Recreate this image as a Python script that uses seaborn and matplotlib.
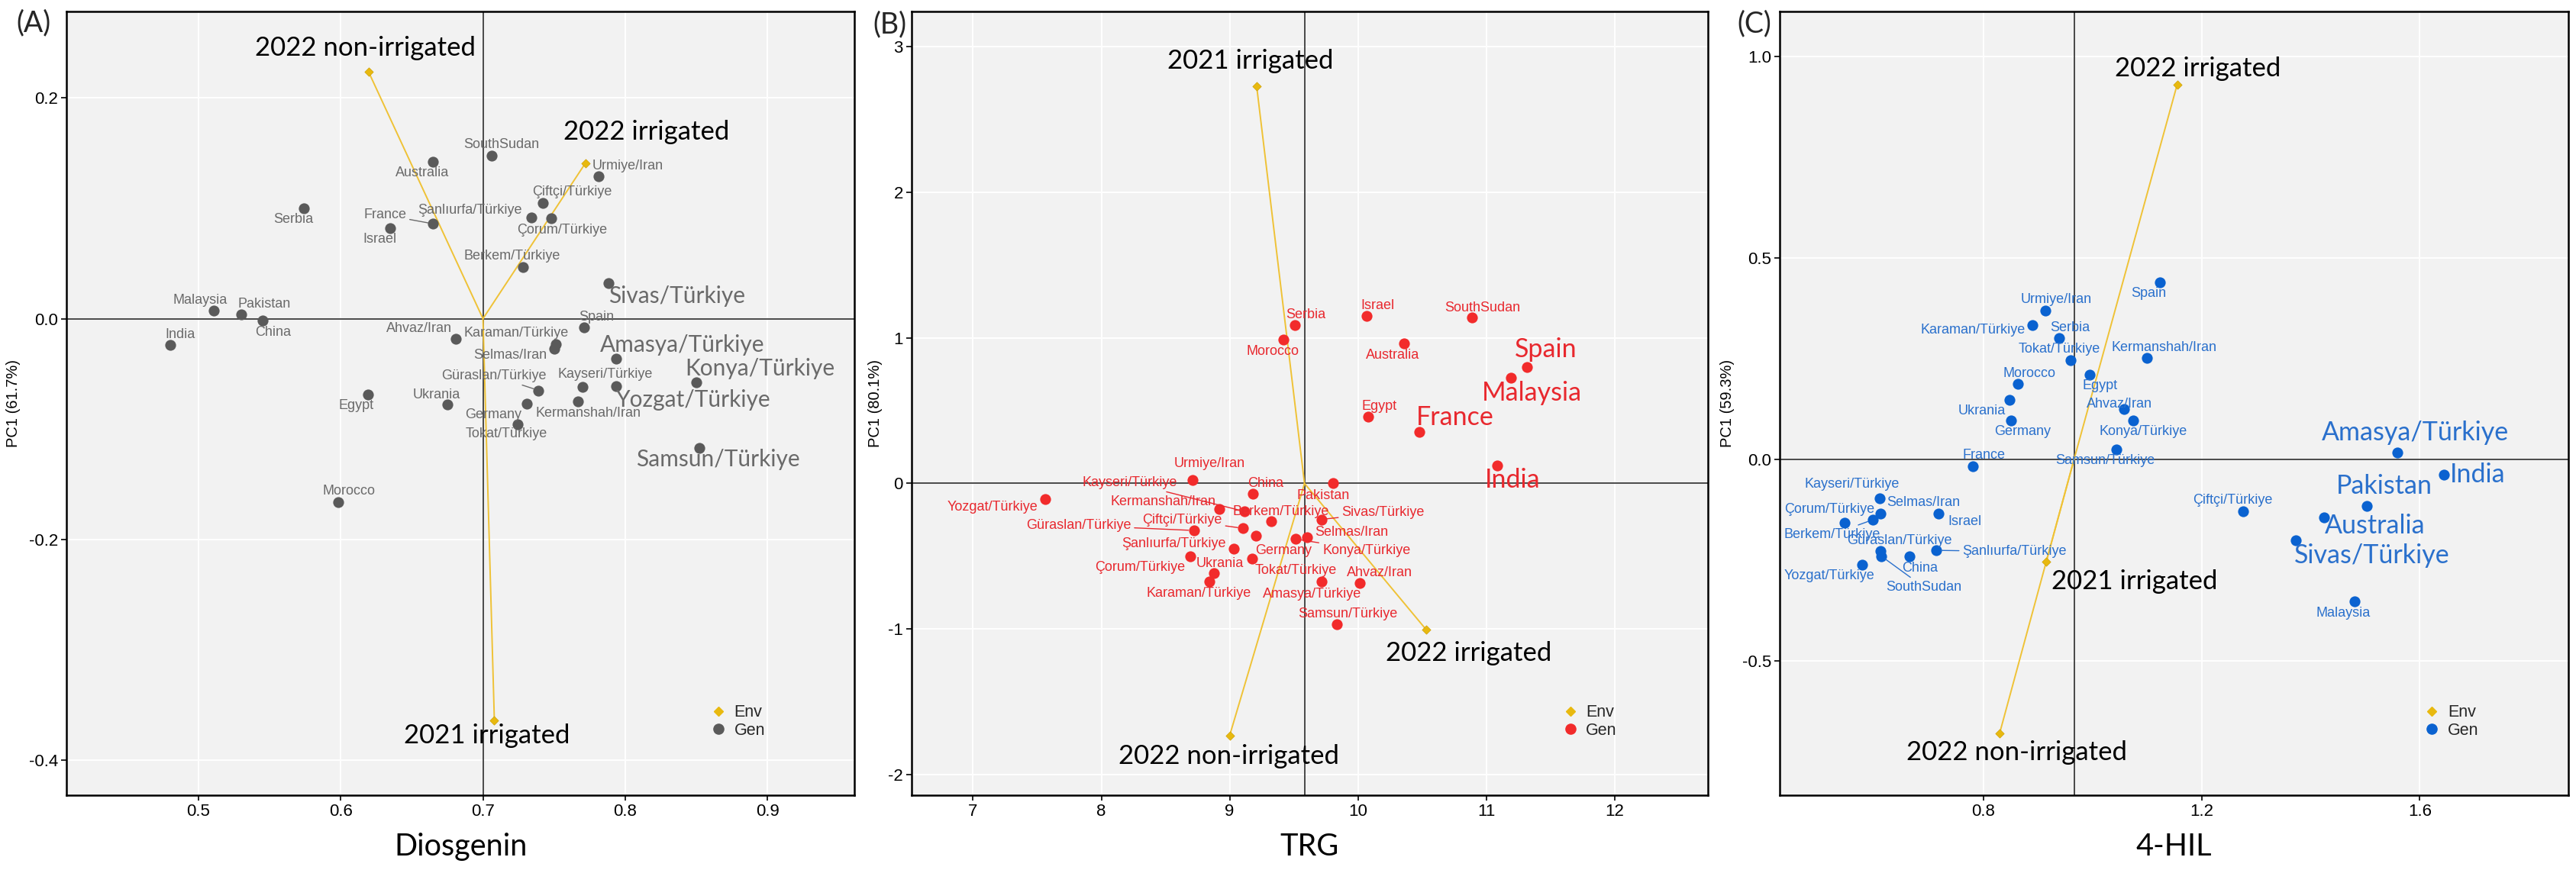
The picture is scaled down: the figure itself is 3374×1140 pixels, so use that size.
import matplotlib
matplotlib.use("Agg")
import matplotlib.pyplot as plt
from matplotlib.lines import Line2D
import pandas as pd
import seaborn as sns

genotypes = ["Malaysia", "Pakistan", "China", "India", "Serbia", "France", "Israel", "Egypt",
             "Morocco", "Australia", "SouthSudan", "Spain", "Germany", "Ukrania", "Urmiye/Iran",
             "Ahvaz/Iran", "Selmas/Iran", "Kermanshah/Iran", "Şanlıurfa/Türkiye", "Çiftçi/Türkiye",
             "Çorum/Türkiye", "Berkem/Türkiye", "Karaman/Türkiye", "Güraslan/Türkiye",
             "Kayseri/Türkiye", "Tokat/Türkiye", "Amasya/Türkiye", "Konya/Türkiye",
             "Yozgat/Türkiye", "Samsun/Türkiye", "Sivas/Türkiye"]
environments = ["2021 irrigated", "2022 irrigated", "2022 non-irrigated"]

# (A) Diosgenin
dio_x = [0.511, 0.530, 0.545, 0.480, 0.574, 0.665, 0.635, 0.619, 0.598, 0.665, 0.706, 0.771,
         0.731, 0.675, 0.781, 0.681, 0.750, 0.767, 0.734, 0.742, 0.748, 0.728, 0.751, 0.739,
         0.770, 0.7245, 0.7935, 0.850, 0.7935, 0.852, 0.788]
dio_y = [0.0074, 0.0037, -0.002, -0.024, 0.100, 0.086, 0.082, -0.069, -0.166, 0.142, 0.148, -0.008,
         -0.077, -0.078, 0.129, -0.018, -0.027, -0.075, 0.092, 0.105, 0.091, 0.047, -0.023, -0.065,
         -0.062, -0.096, -0.036, -0.058, -0.061, -0.1175, 0.032]
dio_env_x = [0.708, 0.772, 0.6195]
dio_env_y = [-0.364, 0.141, 0.224]
dio_center = [0.700, 0.0]

# (B) TRG
trg_x = [11.19, 9.807, 9.180, 11.082, 9.507, 10.477, 10.066, 10.082, 9.420, 10.357, 10.889, 11.318,
         9.203, 8.875, 8.708, 10.014, 9.605, 8.918, 9.030, 9.103, 8.690, 9.323, 8.843, 8.720,
         9.114, 9.175, 9.718, 9.514, 7.563, 9.834, 9.714]
trg_y = [0.727, 0.005, -0.071, 0.122, 1.090, 0.353, 1.151, 0.459, 0.988, 0.962, 1.139, 0.797,
         -0.360, -0.615, 0.023, -0.683, -0.369, -0.177, -0.448, -0.308, -0.500, -0.260, -0.673, -0.323,
         -0.192, -0.519, -0.673, -0.382, -0.110, -0.967, -0.247]
trg_env_x = [9.21, 10.53, 9.00]
trg_env_y = [2.731, -1.003, -1.731]
trg_center = [9.583, 0.0]

# (C) 4-HIL
hil_x = [1.480, 1.503, 0.664, 1.644, 0.939, 0.780, 0.7175, 0.994, 0.8635, 1.425, 0.612, 1.123,
         0.851, 0.8475, 0.9136, 1.057, 0.611, 1.100, 0.7125, 1.276, 0.5444, 0.597, 0.890, 0.611,
         0.609, 0.959, 1.559, 1.074, 0.5774, 1.044, 1.373]
hil_y = [-0.352, -0.116, -0.241, -0.0385, 0.3015, -0.017, -0.134, 0.211, 0.187, -0.145, -0.240, 0.440,
         0.096, 0.148, 0.370, 0.124, -0.134, 0.251, -0.226, -0.129, -0.158, -0.150, 0.333, -0.2275,
         -0.096, 0.246, 0.016, 0.097, -0.261, 0.025, -0.202]
hil_env_x = [0.915, 1.155, 0.8295]
hil_env_y = [-0.254, 0.930, -0.680]
hil_center = [0.966, 0.0]

sns.set_theme(style="darkgrid")
plt.rcParams["font.family"] = ["Liberation Sans", "DejaVu Sans"]
plt.rcParams["axes.unicode_minus"] = False

SMALL = ["Liberation Sans", "DejaVu Sans"]
BIG = ["Lato", "DejaVu Sans"]
ENV_COL = "#E8B90F"
ENV_LINE = "#EFC236"

# label offsets in points (ggrepel-like placement)
off_a = {"Malaysia": (-13, 9.5), "Pakistan": (22, 9.8), "China": (10.3, -10.8), "India": (10, 10),
         "Serbia": (-10, -10.3), "France": (-45.6, 8.4), "Israel": (-10, -10.3), "Egypt": (-10.5, -10.3),
         "Morocco": (10.3, 9.9), "Australia": (-10.6, -10.4), "SouthSudan": (9.7, 10.2),
         "Spain": (11.5, 10), "Germany": (-32.2, -10.4), "Ukrania": (-10, 9.2), "Urmiye/Iran": (27.7, 9.7),
         "Ahvaz/Iran": (-34.8, 9.7), "Selmas/Iran": (-41.4, -6.1), "Kermanshah/Iran": (9.2, -10.9),
         "Şanlıurfa/Türkiye": (-58, 6.6), "Çiftçi/Türkiye": (27.5, 10.4), "Çorum/Türkiye": (10.4, -11.2),
         "Berkem/Türkiye": (-10.2, 10), "Karaman/Türkiye": (-37.2, 10), "Güraslan/Türkiye": (-42.1, 13.8),
         "Kayseri/Türkiye": (21.7, 11.7), "Tokat/Türkiye": (-10.5, -8.5), "Amasya/Türkiye": (62.6, 12.6),
         "Konya/Türkiye": (60, 13.1), "Yozgat/Türkiye": (73, -12.9), "Samsun/Türkiye": (17.8, -10.6),
         "Sivas/Türkiye": (64.7, -12.2)}
env_off_a = [(-6.9, -14.7), (57.6, 29.2), (-3, 22.4)]

off_b = {"Malaysia": (20.1, -14.3), "Pakistan": (-9.6, -12.5), "China": (11.8, 9.8), "India": (14.9, -13.8),
         "Serbia": (10.2, 9.8), "France": (33.9, 13.6), "Israel": (10.5, 9.5), "Egypt": (10.2, 9.8),
         "Morocco": (-9.9, -11), "Australia": (-10.7, -11), "SouthSudan": (10.2, 9.5), "Spain": (17.4, 16.7),
         "Germany": (25.9, -14), "Ukrania": (5.8, 9.2), "Urmiye/Iran": (16.5, 15.3), "Ahvaz/Iran": (19, 9.3),
         "Selmas/Iran": (41.9, 4.8), "Kermanshah/Iran": (-52.9, 7.1), "Şanlıurfa/Türkiye": (-56.2, 4.8),
         "Çiftçi/Türkiye": (-57.3, 7.9), "Çorum/Türkiye": (-46.8, -10.6), "Berkem/Türkiye": (9.2, 9.2),
         "Karaman/Türkiye": (-10.5, -11.1), "Güraslan/Türkiye": (-108.8, 4.8),
         "Kayseri/Türkiye": (-108, 27.2), "Tokat/Türkiye": (41, -11.1), "Amasya/Türkiye": (-8.9, -11.7),
         "Konya/Türkiye": (66.7, -10.7), "Yozgat/Türkiye": (-50, -6.9), "Samsun/Türkiye": (10.5, 9.7),
         "Sivas/Türkiye": (58.4, 6.4)}
env_off_b = [(-5.6, 23.4), (40.5, -22.6), (-1, -19.8)]

off_c = {"Malaysia": (-10.4, -11.3), "Pakistan": (16.6, 19), "China": (9.8, -11.3), "India": (31.7, 0),
         "Serbia": (10, 9.8), "France": (10.8, 10.2), "Israel": (24.9, -8), "Egypt": (10.3, -11),
         "Morocco": (10.3, 9.5), "Australia": (48, -7.7), "SouthSudan": (40.1, -29.2), "Spain": (-10.2, -10.8),
         "Germany": (10.3, -10.5), "Ukrania": (-26, -10.3), "Urmiye/Iran": (10.3, 10), "Ahvaz/Iran": (-4, 5),
         "Selmas/Iran": (40.4, 9.9), "Kermanshah/Iran": (15.7, 10.1), "Şanlıurfa/Türkiye": (74.3, -1.1),
         "Çiftçi/Türkiye": (-9.9, 10.2), "Çorum/Türkiye": (-14.1, 13), "Berkem/Türkiye": (-38.3, -13.8),
         "Karaman/Türkiye": (-56, -4.6), "Güraslan/Türkiye": (17.5, 9.6), "Kayseri/Türkiye": (-25.7, 13),
         "Tokat/Türkiye": (-10.5, 10.3), "Amasya/Türkiye": (16.6, 18.7), "Konya/Türkiye": (10, -11),
         "Yozgat/Türkiye": (-30.9, -10.7), "Samsun/Türkiye": (-10.8, -11), "Sivas/Türkiye": (71.9, -13.8)}
env_off_c = [(83, -18.7), (19.2, 15.4), (16.2, -17.9)]


def draw_panel(ax, gx, gy, ex, ey, center, dot_col, txt_col, big, big_size, offsets, env_offsets,
               leaders, xlim, ylim, xticks, xticklabels, yticks, yticklabels, xlab, ylab, ylab_x):
    ax.set_facecolor("#F2F2F2")
    ax.grid(True, color="white", lw=1.4, zorder=0)
    ax.set_axisbelow(True)
    ax.axhline(center[1], color="#2b2b2b", lw=1.2, zorder=1)
    ax.axvline(center[0], color="#2b2b2b", lw=1.2, zorder=1)
    for x, y in zip(ex, ey):
        ax.plot([center[0], x], [center[1], y], color=ENV_LINE, lw=1.4, zorder=2)

    gen = pd.DataFrame({"x": gx, "y": gy, "name": genotypes})
    env = pd.DataFrame({"x": ex, "y": ey, "name": environments})
    sns.scatterplot(data=gen, x="x", y="y", color=dot_col, s=105, linewidth=0, ax=ax,
                    zorder=3, legend=False)
    sns.scatterplot(data=env, x="x", y="y", marker="D", color=ENV_COL, s=34, linewidth=0.4,
                    edgecolor="#C99A00", ax=ax, zorder=4, legend=False)

    for name, x, y in zip(gen["name"], gen["x"], gen["y"]):
        if name in big:
            kw = dict(fontsize=big_size, family=BIG)
        else:
            kw = dict(fontsize=13, family=SMALL)
        arrow = None
        if name in leaders:
            arrow = dict(arrowstyle="-", color=txt_col, lw=1.0, shrinkA=1, shrinkB=5)
        ax.annotate(name, (x, y), xytext=offsets[name], textcoords="offset points",
                    ha="center", va="center", color=txt_col, arrowprops=arrow, zorder=5, **kw)
    for name, x, y, o in zip(env["name"], env["x"], env["y"], env_offsets):
        ax.annotate(name, (x, y), xytext=o, textcoords="offset points", ha="center",
                    va="center", color="black", fontsize=25, family=BIG, zorder=5)

    ax.set_xlim(xlim)
    ax.set_ylim(ylim)
    ax.set_xticks(xticks)
    ax.set_xticklabels(xticklabels)
    ax.set_yticks(yticks)
    ax.set_yticklabels(yticklabels)
    ax.tick_params(bottom=True, left=True, length=5, width=1.2, color="black", direction="out",
                   labelsize=16, labelcolor="black", pad=3)
    for s in ax.spines.values():
        s.set_visible(True)
        s.set_color("black")
        s.set_linewidth(1.8)

    ax.set_xlabel(xlab, fontsize=28.5, family=BIG, color="black")
    ax.xaxis.label.set_va("center")
    ax.xaxis.set_label_coords(0.5, -0.066)
    ax.set_ylabel(ylab, fontsize=14.5, family=SMALL, color="black")
    ax.yaxis.label.set_va("center")
    ax.yaxis.set_label_coords(ylab_x, 0.5)

    handles = [Line2D([], [], marker="D", ls="", color=ENV_COL, markersize=6),
               Line2D([], [], marker="o", ls="", color=dot_col, markersize=9.5)]
    ax.legend(handles, ["Env", "Gen"], loc="center left", bbox_to_anchor=(0.817, 0.094),
              frameon=False, fontsize=15.5, handlelength=1.0, handletextpad=0.45,
              labelspacing=0.1, borderpad=0, borderaxespad=0)


fig = plt.figure(figsize=(33.74, 11.4), dpi=100)
ax_a = fig.add_axes([0.02593, 0.08596, 0.30572, 0.90088])
ax_b = fig.add_axes([0.35388, 0.08596, 0.30913, 0.90088])
ax_c = fig.add_axes([0.69087, 0.08596, 0.30602, 0.90088])

draw_panel(ax_a, dio_x, dio_y, dio_env_x, dio_env_y, dio_center, "#5A5A5A", "#6A6A6A",
           ["Sivas/Türkiye", "Amasya/Türkiye", "Konya/Türkiye", "Yozgat/Türkiye", "Samsun/Türkiye"],
           21.5, off_a, env_off_a, ["France", "Güraslan/Türkiye"],
           (0.4075, 0.961), (-0.432, 0.2785),
           [0.5, 0.6, 0.7, 0.8, 0.9], ["0.5", "0.6", "0.7", "0.8", "0.9"],
           [-0.4, -0.2, 0.0, 0.2], ["-0.4", "-0.2", "0.0", "0.2"],
           "Diosgenin", "PC1 (61.7%)", -0.068)

draw_panel(ax_b, trg_x, trg_y, trg_env_x, trg_env_y, trg_center, "#F22B2B", "#E8282E",
           ["Spain", "Malaysia", "France", "India"],
           24.5, off_b, env_off_b,
           ["Kayseri/Türkiye", "Çiftçi/Türkiye", "Güraslan/Türkiye", "Sivas/Türkiye", "Konya/Türkiye"],
           (6.521, 12.727), (-2.142, 3.243),
           [7, 8, 9, 10, 11, 12], ["7", "8", "9", "10", "11", "12"],
           [-2, -1, 0, 1, 2, 3], ["-2", "-1", "0", "1", "2", "3"],
           "TRG", "PC1 (80.1%)", -0.046)

draw_panel(ax_c, hil_x, hil_y, hil_env_x, hil_env_y, hil_center, "#0A62D0", "#2A70CC",
           ["Amasya/Türkiye", "India", "Pakistan", "Australia", "Sivas/Türkiye"],
           24.5, off_c, env_off_c,
           ["Berkem/Türkiye", "SouthSudan", "Şanlıurfa/Türkiye"],
           (0.426, 1.872), (-0.834, 1.112),
           [0.8, 1.2, 1.6], ["0.8", "1.2", "1.6"],
           [-0.5, 0.0, 0.5, 1.0], ["-0.5", "0.0", "0.5", "1.0"],
           "4-HIL", "PC1 (59.3%)", -0.066)

for x, y, t in [(0.013, 0.9737, "(A)"), (0.3453, 0.972, "(B)"), (0.6811, 0.9728, "(C)")]:
    fig.text(x, y, t, fontsize=27, family=BIG, ha="center", va="center")

fig.savefig("out.png", dpi=100)
